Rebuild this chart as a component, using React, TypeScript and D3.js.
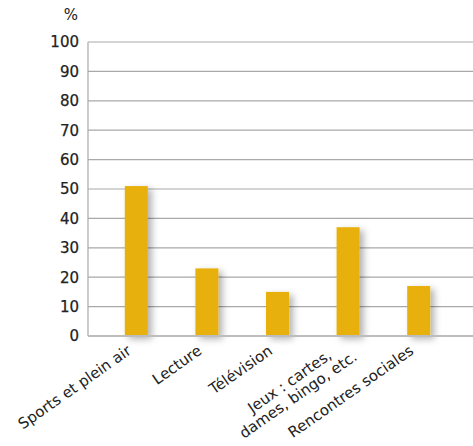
import React from "react";
import * as d3 from "d3";

const categories: string[][] = [
  ["Sports et plein air"],
  ["Lecture"],
  ["Télévision"],
  ["Jeux : cartes,", "dames, bingo, etc."],
  ["Rencontres sociales"],
];
const values: number[] = [51, 23, 15, 37, 17];
const yTicks: number[] = [0, 10, 20, 30, 40, 50, 60, 70, 80, 90, 100];
const unitLabel = "%";

const W = 473;
const H = 446;
const left = 88;
const right = 473;
const top = 42;
const bottom = 336;

export default function App() {
  const y = d3.scaleLinear().domain([0, 100]).range([bottom, top]);
  const x = d3
    .scaleBand<number>()
    .domain(values.map((_, i) => i))
    .range([101, 454])
    .paddingInner(0.674)
    .paddingOuter(0.337);
  const font = "'DejaVu Sans', sans-serif";
  return (
    <svg
      width={W}
      height={H}
      style={{ position: "absolute", left: 0, top: 0, background: "#fff" }}
    >
      <defs>
        <filter id="sh" x="-50%" y="-20%" width="220%" height="140%">
          <feDropShadow dx="4" dy="3" stdDeviation="3.5" floodColor="#000" floodOpacity="0.3" />
        </filter>
      </defs>
      {yTicks.map((t) => (
        <g key={t}>
          {t > 0 && (
            <line x1={left} x2={right} y1={y(t)} y2={y(t)} stroke="#a9a9a9" strokeWidth={1.2} />
          )}
          <text
            x={79}
            y={y(t)}
            dy="0.36em"
            textAnchor="end"
            fontFamily={font}
            fontSize={15}
            fill="#222"
            stroke="#222"
            strokeWidth={0.25}
          >
            {t}
          </text>
        </g>
      ))}
      <text x={71} y={20} textAnchor="middle" fontFamily={font} fontSize={15} fill="#222">
        {unitLabel}
      </text>
      <line x1={left} x2={left} y1={top} y2={bottom} stroke="#a9a9a9" strokeWidth={1.2} />
      {values.map((v, i) => (
        <rect
          key={i}
          x={x(i)}
          y={y(v)}
          width={x.bandwidth()}
          height={y(0) - y(v)}
          fill="#E8B00E"
          filter="url(#sh)"
        />
      ))}
      <line x1={left} x2={right} y1={bottom} y2={bottom} stroke="#bdbdbd" strokeWidth={2} />
      {categories.map((lines, i) => {
        const cx = (x(i) as number) + x.bandwidth() / 2;
        const multi = lines.length > 1;
        return (
          <text
            key={i}
            transform={`translate(${cx + (multi ? 1 : -4)},${multi ? 346 : 353}) rotate(-35)`}
            textAnchor="end"
            fontFamily={font}
            fontSize={15}
            fill="#222"
          >
            {lines.map((l, j) => (
              <tspan key={j} x={multi && j === 0 ? -20 : 0} dy={j === 0 ? "0" : "1.05em"}>
                {l}
              </tspan>
            ))}
          </text>
        );
      })}
    </svg>
  );
}
